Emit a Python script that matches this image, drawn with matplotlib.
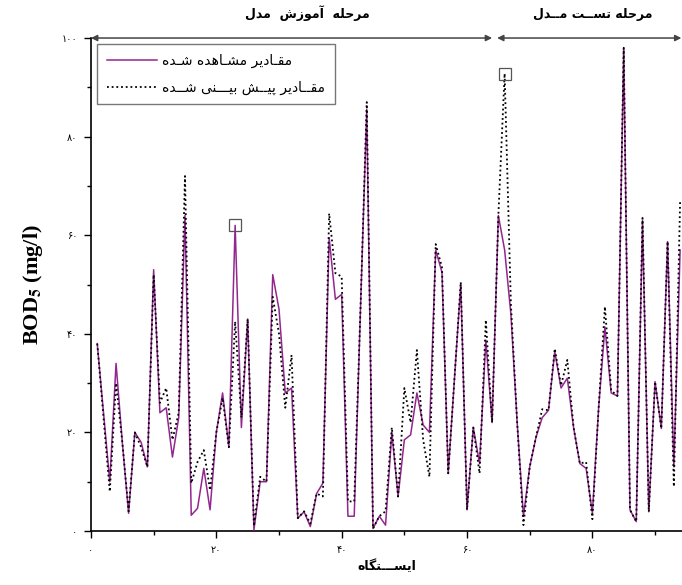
import matplotlib
matplotlib.use("Agg")
import matplotlib.pyplot as plt
from matplotlib.ticker import MultipleLocator, FixedLocator, FixedFormatter

# ---------------- data ----------------
stations = list(range(1, 95))
observed = [38, 24, 10, 34, 18, 3.6, 20, 18, 13, 53,
            24, 25, 15, 23, 64, 3.2, 4.6, 12.7, 4.3, 20,
            28, 17, 62, 21, 43, 0.2, 10, 10, 52, 45,
            28, 29, 2.6, 3.9, 0.9, 7.6, 9.7, 59.5, 47, 48,
            3, 3, 45, 85.5, 0.5, 3, 1.2, 20, 7, 18.5,
            19.5, 28, 21.5, 20, 57, 52.5, 11.7, 31, 50, 4.3,
            21, 13.7, 38.7, 22, 64, 57, 44, 22, 3, 13,
            19, 23, 24.5, 36.4, 29, 31, 21, 13.7, 12.7, 3.6,
            25, 41.4, 28, 27.4, 98, 4.3, 1.9, 63, 3.9, 30.3,
            20.8, 58.7, 13, 57]
predicted = [38, 23, 8, 30, 18, 4, 20, 17, 13, 52,
             26, 29, 18.5, 24, 72, 9.7, 14, 16.4, 8.3, 20,
             27, 17, 42.5, 23, 43, 1, 11, 10, 47.5, 40,
             25, 35.7, 2.6, 4, 1.5, 7.6, 7, 64.4, 52.3, 51.6,
             6, 6, 45, 87, 0.5, 3, 4, 21, 7, 29,
             22, 36.7, 18.5, 11, 58.2, 53.5, 11.7, 31, 50.5, 4.3,
             21, 11.7, 42.8, 22, 64, 92.8, 46, 22, 1.2, 13,
             19, 24.7, 24.5, 37, 29.5, 34.7, 21, 13.7, 14, 2.4,
             25, 45.5, 28.5, 27.4, 98, 4.3, 1.9, 63.5, 3.9, 30.3,
             20.8, 58.7, 9, 67]
highlight_obs_station = 23
highlight_pred_station = 66
phase_split = 64.4

x_ticks = [0, 20, 40, 60, 80]
x_tick_labels = ["۰", "۲۰", "۴۰", "۶۰", "۸۰"]
y_ticks = [0, 20, 40, 60, 80, 100]
y_tick_labels = ["۰", "۲۰", "۴۰", "۶۰", "۸۰", "۱۰۰"]

label_obs = "مقـادیر مشـاهده شـده"
label_pred = "مقــادیر پیــش بیـــنی شــده"
label_train = "مرحله  آموزش  مدل"
label_test = "مرحله تســت مــدل"
label_x = "ایســـتگاه"

# ---------------- simple Persian shaping ----------------
FORMS = {
    'ا': (0xFE8D, 0xFE8E, None, None), 'آ': (0xFE81, 0xFE82, None, None),
    'ب': (0xFE8F, 0xFE90, 0xFE91, 0xFE92), 'پ': (0xFB56, 0xFB57, 0xFB58, 0xFB59),
    'ت': (0xFE95, 0xFE96, 0xFE97, 0xFE98), 'ث': (0xFE99, 0xFE9A, 0xFE9B, 0xFE9C),
    'ج': (0xFE9D, 0xFE9E, 0xFE9F, 0xFEA0), 'چ': (0xFB7A, 0xFB7B, 0xFB7C, 0xFB7D),
    'ح': (0xFEA1, 0xFEA2, 0xFEA3, 0xFEA4), 'خ': (0xFEA5, 0xFEA6, 0xFEA7, 0xFEA8),
    'د': (0xFEA9, 0xFEAA, None, None), 'ذ': (0xFEAB, 0xFEAC, None, None),
    'ر': (0xFEAD, 0xFEAE, None, None), 'ز': (0xFEAF, 0xFEB0, None, None),
    'ژ': (0xFB8A, 0xFB8B, None, None),
    'س': (0xFEB1, 0xFEB2, 0xFEB3, 0xFEB4), 'ش': (0xFEB5, 0xFEB6, 0xFEB7, 0xFEB8),
    'ص': (0xFEB9, 0xFEBA, 0xFEBB, 0xFEBC), 'ض': (0xFEBD, 0xFEBE, 0xFEBF, 0xFEC0),
    'ط': (0xFEC1, 0xFEC2, 0xFEC3, 0xFEC4), 'ظ': (0xFEC5, 0xFEC6, 0xFEC7, 0xFEC8),
    'ع': (0xFEC9, 0xFECA, 0xFECB, 0xFECC), 'غ': (0xFECD, 0xFECE, 0xFECF, 0xFED0),
    'ف': (0xFED1, 0xFED2, 0xFED3, 0xFED4), 'ق': (0xFED5, 0xFED6, 0xFED7, 0xFED8),
    'ک': (0xFB8E, 0xFB8F, 0xFB90, 0xFB91), 'گ': (0xFB92, 0xFB93, 0xFB94, 0xFB95),
    'ل': (0xFEDD, 0xFEDE, 0xFEDF, 0xFEE0), 'م': (0xFEE1, 0xFEE2, 0xFEE3, 0xFEE4),
    'ن': (0xFEE5, 0xFEE6, 0xFEE7, 0xFEE8), 'ه': (0xFEE9, 0xFEEA, 0xFEEB, 0xFEEC),
    'و': (0xFEED, 0xFEEE, None, None), 'ی': (0xFBFC, 0xFBFD, 0xFBFE, 0xFBFF),
}
TATWEEL = 'ـ'


def dual(c):
    return c == TATWEEL or (c in FORMS and FORMS[c][2] is not None)


def joinable(c):
    return c == TATWEEL or c in FORMS


def fa(text):
    out = []
    n = len(text)
    for i, c in enumerate(text):
        if c not in FORMS:
            out.append(c)
            continue
        prev = text[i - 1] if i > 0 else None
        nxt = text[i + 1] if i + 1 < n else None
        jp = prev is not None and dual(prev)
        jn = dual(c) and nxt is not None and joinable(nxt)
        iso, fin, ini, med = FORMS[c]
        if jp and jn:
            code = med
        elif jp:
            code = fin
        elif jn:
            code = ini
        else:
            code = iso
        out.append(chr(code))
    return ''.join(reversed(out))


# ---------------- figure ----------------
plt.rcParams['font.family'] = ['DejaVu Sans']
plt.rcParams['mathtext.fontset'] = 'stix'

fig = plt.figure(figsize=(6.82, 5.85), dpi=100)
ax = fig.add_axes([0.1334, 0.0923, 0.8666, 0.8427])

purple = '#93278F'
ax.plot(stations, observed, color=purple, lw=1.1, label=fa(label_obs), zorder=3)
ax.plot(stations, predicted, color='black', lw=1.3, ls=(0, (1, 1.6)),
        label=fa(label_pred), zorder=4)

io = stations.index(highlight_obs_station)
ip = stations.index(highlight_pred_station)
ax.plot([stations[io]], [observed[io]], marker='s', ms=9, mfc='none',
        mec='#555555', mew=0.9, ls='none', zorder=5)
ax.plot([stations[ip]], [predicted[ip]], marker='s', ms=9, mfc='none',
        mec='#555555', mew=0.9, ls='none', zorder=5)

ax.set_xlim(0, 94.3)
ax.set_ylim(0, 100)

for s in ['top', 'right']:
    ax.spines[s].set_visible(False)
for s in ['left', 'bottom']:
    ax.spines[s].set_linewidth(1.2)

ax.xaxis.set_major_locator(FixedLocator(x_ticks))
ax.xaxis.set_major_formatter(FixedFormatter(x_tick_labels))
ax.xaxis.set_minor_locator(MultipleLocator(10))
ax.yaxis.set_major_locator(FixedLocator(y_ticks))
ax.yaxis.set_major_formatter(FixedFormatter(y_tick_labels))
ax.yaxis.set_minor_locator(MultipleLocator(10))
ax.tick_params(which='both', direction='out', width=1.0, labelsize=7)
ax.tick_params(which='major', length=5, pad=5)
ax.tick_params(which='minor', length=3)

# phase arrows along the top
arrow_kw = dict(arrowstyle='<|-|>', color='#444444', lw=1.1, mutation_scale=9,
                shrinkA=0, shrinkB=0)
ax.annotate('', xy=(0, 100), xytext=(phase_split - 0.4, 100),
            arrowprops=arrow_kw, annotation_clip=False)
ax.annotate('', xy=(phase_split + 0.4, 100), xytext=(94.2, 100),
            arrowprops=arrow_kw, annotation_clip=False)
ax.text(34.5, 103.5, fa(label_train), ha='center', va='bottom',
        fontsize=9, fontweight='bold')
ax.text(80.0, 103.5, fa(label_test), ha='center', va='bottom',
        fontsize=9, fontweight='bold')

leg = ax.legend(loc='upper left', bbox_to_anchor=(0.01, 0.988),
                fancybox=False, edgecolor='#555555', fontsize=10,
                handlelength=3.6, handletextpad=0.4, borderpad=0.7,
                labelspacing=0.9, borderaxespad=0)
leg.get_frame().set_linewidth(1.0)

ax.set_xlabel(fa(label_x), fontsize=9, fontweight='bold', labelpad=3)
ax.set_ylabel(r'BOD$_{\mathbf{5}}$ (mg/l)', fontsize=16, fontweight='bold',
              family='Liberation Serif', labelpad=12)

fig.savefig('out.png', dpi=100)
